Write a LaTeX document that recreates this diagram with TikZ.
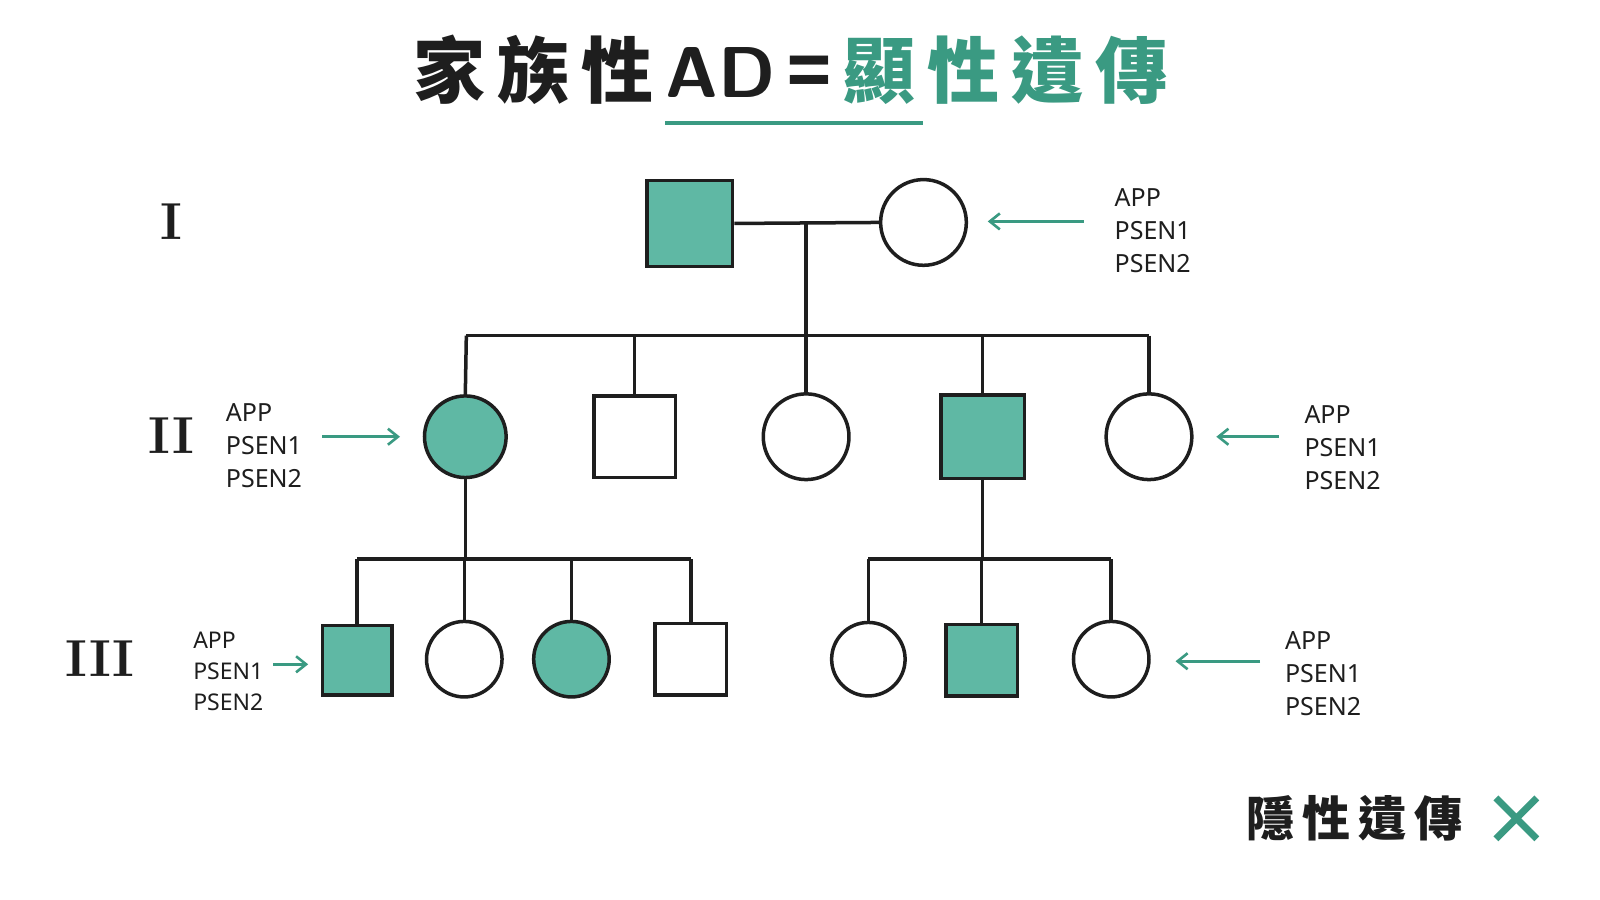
\documentclass[tikz,border=0pt]{standalone}
\usepackage{fontspec}
\setmainfont{Noto Sans}
\newfontfamily\cjk{Noto Sans CJK TC}
\newfontfamily\rom{Latin Modern Roman}
\usetikzlibrary{arrows.meta}
\definecolor{gfill}{HTML}{5FB8A4}
\definecolor{gdark}{HTML}{3A9A82}
\definecolor{ink}{HTML}{1E1E1E}
\begin{document}
\begin{tikzpicture}[x=0.51pt,y=-0.51pt,
  ln/.style={draw=ink,line width=1.75pt},
  sq/.style={ln,rectangle,minimum size=#1*0.51pt,inner sep=0pt,fill=white},
  ci/.style={ln,circle,minimum size=#1*0.51pt,inner sep=0pt,fill=white},
  aff/.style={fill=gfill},
  gen/.style={font=\rom\bfseries\fontsize{26}{26}\selectfont,text=ink},
  lab/.style={align=left,anchor=west,text=ink,font=\fontsize{12.5}{16.5}\selectfont,inner sep=0pt},
  labs/.style={align=left,anchor=west,text=ink,font=\fontsize{11.5}{15.5}\selectfont,inner sep=0pt},
  ar/.style={draw=gdark,line width=1.3pt,-{Straight Barb[length=5pt,width=8pt]}}]
\useasboundingbox[fill=white] (0,0) rectangle (1568,882);
% title
\node[anchor=center,font=\cjk\bfseries\fontsize{36}{36}\selectfont,text=ink] (title) at (775,68)
  {家\,族\,性\,\textsf{\bfseries AD}\,=\,\textcolor{gdark}{顯\,性\,遺\,傳}};
\coordinate (ul1) at (652,121); \coordinate (ul2) at (905,121);
\draw[gdark,line width=2pt] (ul1) -- (ul2);
% generation labels
\node[gen] (gI) at (168,217) {I};
\node[gen] (gII) at (168,427) {II};
\node[gen] (gIII) at (98,645) {III};
% gen I
\node[sq=84,aff] (f) at (676,219) {};
\node[ci=84] (m) at (905,218) {};
\coordinate (mid) at (790,217);
\coordinate (s1) at (790,329);
\coordinate (s1l) at (457,329); \coordinate (s1r) at (1126,329);
% gen II
\node[ci=80,aff] (a1) at (456,428) {};
\node[sq=80] (a2) at (622,428) {};
\node[ci=84] (a3) at (790,428) {};
\node[sq=82,aff] (a4) at (963,428) {};
\node[ci=84] (a5) at (1126,428) {};
\draw[ln] (f.east) -- (m.west);
\draw[ln] (mid) -- (s1);
\draw[ln] (s1l) -- (s1r);
\foreach \n/\x in {a1/457,a2/622,a3/790,a4/963,a5/1126}{
  \coordinate (t\n) at (\x,329); \draw[ln] (t\n) -- (\n.north);}
% gen III left
\node[sq=68,aff] (b1) at (350,647) {};
\node[ci=74] (b2) at (455,646) {};
\node[ci=74,aff] (b3) at (560,646) {};
\node[sq=70] (b4) at (677,646) {};
\coordinate (s2) at (456,548);
\coordinate (s2l) at (350,548); \coordinate (s2r) at (677,548);
\draw[ln] (a1.south) -- (s2);
\draw[ln] (s2l) -- (s2r);
\foreach \n/\x in {b1/350,b2/455,b3/560,b4/677}{
  \coordinate (t\n) at (\x,548); \draw[ln] (t\n) -- (\n.north);}
% gen III right
\node[ci=72] (c1) at (851,646) {};
\node[sq=70,aff] (c2) at (962,647) {};
\node[ci=74] (c3) at (1089,646) {};
\coordinate (s3) at (963,548);
\coordinate (s3l) at (851,548); \coordinate (s3r) at (1089,548);
\draw[ln] (a4.south) -- (s3);
\draw[ln] (s3l) -- (s3r);
\foreach \n/\x in {c1/851,c2/962,c3/1089}{
  \coordinate (t\n) at (\x,548); \draw[ln] (t\n) -- (\n.north);}
% labels and arrows
\node[lab] (L1) at (1092,226) {APP\\PSEN1\\PSEN2};
\coordinate (e1) at (1062,217); \coordinate (h1) at (968,217);
\draw[ar] (e1) -- (h1);
\node[lab] (L2) at (221,437) {APP\\PSEN1\\PSEN2};
\coordinate (e2) at (316,428); \coordinate (h2) at (392,428);
\draw[ar] (e2) -- (h2);
\node[lab] (L3) at (1278,439) {APP\\PSEN1\\PSEN2};
\coordinate (e3) at (1253,428); \coordinate (h3) at (1192,428);
\draw[ar] (e3) -- (h3);
\node[labs] (L4) at (189,658) {APP\\PSEN1\\PSEN2};
\coordinate (e4) at (268,651); \coordinate (h4) at (302,651);
\draw[ar] (e4) -- (h4);
\node[lab] (L5) at (1259,660) {APP\\PSEN1\\PSEN2};
\coordinate (e5) at (1235,648); \coordinate (h5) at (1152,648);
\draw[ar] (e5) -- (h5);
% bottom
\node[anchor=east,font=\cjk\bfseries\fontsize{24}{24}\selectfont,text=ink] (rec) at (1440,802) {隱\,性\,遺\,傳};
\coordinate (x1) at (1466,782); \coordinate (x2) at (1506,822);
\coordinate (x3) at (1506,782); \coordinate (x4) at (1466,822);
\draw[gdark,line width=3.5pt] (x1) -- (x2) (x3) -- (x4);
\end{tikzpicture}
\end{document}
